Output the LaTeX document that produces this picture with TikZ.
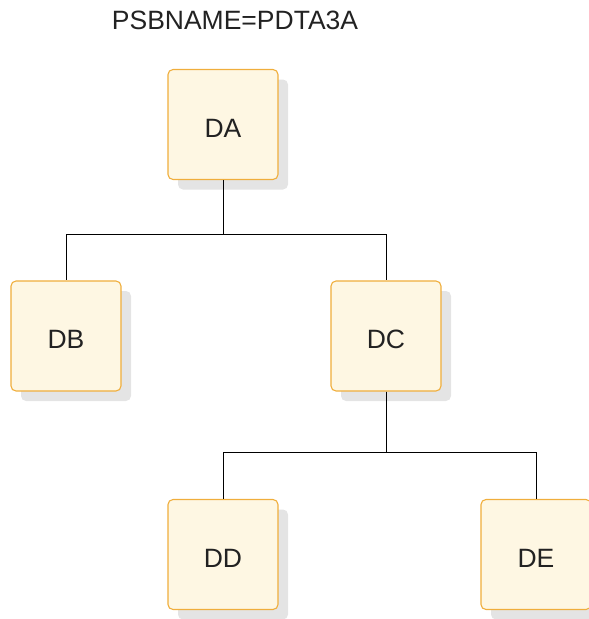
\documentclass[tikz,border=0pt]{standalone}
\usepackage{fontspec}
\setmainfont{Liberation Sans}
\usepackage{tikz}
\usetikzlibrary{positioning, shadows}
\definecolor{boxfill}{HTML}{FEF7E3}
\definecolor{boxedge}{HTML}{F0AE3C}
\definecolor{shade}{HTML}{E4E4E4}
\definecolor{ink}{HTML}{222222}
\tikzset{
  seg/.style={rectangle,rounded corners=5pt,draw=boxedge,fill=boxfill,line width=1.1pt,
    minimum width=110pt,minimum height=110pt,inner sep=0pt,font=\fontsize{26.5}{30}\selectfont,
    text height=25pt,text depth=0pt,
    text=ink,drop shadow={shadow xshift=10pt,shadow yshift=-10pt,fill=shade,opacity=1}},
  link/.style={draw=black,line width=0.9pt}
}
\begin{document}
\begin{tikzpicture}[x=1pt,y=-1pt]
\useasboundingbox (0,0) rectangle (589,619);
\node[font=\fontsize{26.5}{30}\selectfont,text=ink,anchor=base] (psb) at (235,29) {PSBNAME=PDTA3A};
\node[seg] (da) at (223,124.5) {DA};
\node[seg] (db) at (66,336) {DB};
\node[seg] (dc) at (386,336) {DC};
\node[seg] (dd) at (223,554.5) {DD};
\node[seg] (de) at (536,554.5) {DE};
\draw[link] (da.south) -- ++(0,54) -| (db.north);
\draw[link] (da.south) -- ++(0,54) -| (dc.north);
\draw[link] (dc.south) -- ++(0,61) -| (dd.north);
\draw[link] (dc.south) -- ++(0,61) -| (de.north);
\end{tikzpicture}
\end{document}
